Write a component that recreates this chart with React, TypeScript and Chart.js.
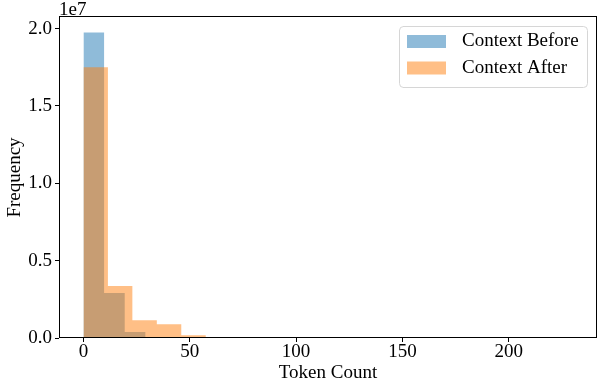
import React, { useEffect, useRef } from "react";
import { Chart, registerables } from "chart.js";

Chart.register(...registerables);

// ---- data ----
const seriesNames = ["Context Before", "Context After"];
const beforeRange = [0, 194];
const afterRange = [0, 230];
const beforeCounts = [19750000, 2910000, 390000, 60000, 15000, 5000, 2000, 800, 400, 200, 100, 50, 25, 12, 6, 3, 2, 1, 1, 1];
const afterCounts = [17500000, 3360000, 1140000, 886000, 175000, 30000, 8000, 3000, 1200, 500, 250, 120, 60, 30, 15, 8, 4, 2, 1, 1];
const xTickValues = [0, 50, 100, 150, 200];
const yTickValues = [0, 5e6, 1e7, 1.5e7, 2e7];
const xLimits = [-11.5, 241.5];
const yLimits = [0, 2.075e7];
const xTitle = "Token Count";
const yTitle = "Frequency";
const offsetText = "1e7";

const colors = ["rgba(31,119,180,0.5)", "rgba(255,127,14,0.5)"];
const FONT = "'Liberation Serif', 'Times New Roman', serif";
const FS = 19;

function histPoints(range: number[], counts: number[]) {
  const w = (range[1] - range[0]) / counts.length;
  const pts = counts.map((c, i) => ({ x: range[0] + i * w, y: c }));
  pts.push({ x: range[1], y: counts[counts.length - 1] });
  return pts;
}

const framePlugin = {
  id: "mplFrame",
  afterDraw(chart: any) {
    const { ctx, chartArea } = chart;
    ctx.save();
    // axes frame
    ctx.strokeStyle = "#000";
    ctx.lineWidth = 1;
    ctx.strokeRect(chartArea.left + 0.5, chartArea.top - 0.5, chartArea.right - chartArea.left - 1, chartArea.bottom - chartArea.top);
    // offset text
    ctx.fillStyle = "#000";
    ctx.font = `${FS}px ${FONT}`;
    ctx.textBaseline = "middle";
    ctx.textAlign = "left";
    ctx.fillText(offsetText, chartArea.left, chartArea.top - 7);
    // legend
    const boxW = 188, boxH = 61;
    const x0 = chartArea.right - 10 - boxW;
    const y0 = chartArea.top + 9;
    const r = 4;
    ctx.beginPath();
    ctx.moveTo(x0 + r, y0 + 0.5);
    ctx.lineTo(x0 + boxW - r, y0 + 0.5);
    ctx.arcTo(x0 + boxW + 0.5, y0 + 0.5, x0 + boxW + 0.5, y0 + r, r);
    ctx.lineTo(x0 + boxW + 0.5, y0 + boxH - r);
    ctx.arcTo(x0 + boxW + 0.5, y0 + boxH + 0.5, x0 + boxW - r, y0 + boxH + 0.5, r);
    ctx.lineTo(x0 + r, y0 + boxH + 0.5);
    ctx.arcTo(x0 + 0.5, y0 + boxH + 0.5, x0 + 0.5, y0 + boxH - r, r);
    ctx.lineTo(x0 + 0.5, y0 + r);
    ctx.arcTo(x0 + 0.5, y0 + 0.5, x0 + r, y0 + 0.5, r);
    ctx.closePath();
    ctx.fillStyle = "rgba(255,255,255,0.8)";
    ctx.fill();
    ctx.strokeStyle = "#d6d6d6";
    ctx.stroke();
    seriesNames.forEach((name, i) => {
      const cy = y0 + 15.5 + i * 26.5;
      ctx.fillStyle = colors[i];
      ctx.fillRect(x0 + 8, cy - 6.5, 39, 13);
      ctx.fillStyle = "#000";
      ctx.fillText(name, x0 + 63, cy);
    });
    ctx.restore();
  },
};

export default function App() {
  const canvasRef = useRef<HTMLCanvasElement | null>(null);

  useEffect(() => {
    const canvas = canvasRef.current;
    if (!canvas) return;
    const tickFont = { family: FONT, size: FS };
    const chart = new Chart(canvas, {
      type: "line",
      data: {
        datasets: [
          {
            label: seriesNames[0],
            data: histPoints(beforeRange, beforeCounts),
            stepped: true,
            fill: "origin",
            backgroundColor: colors[0],
            borderColor: "rgba(0,0,0,0)",
            borderWidth: 0,
            pointRadius: 0,
            order: 1,
          },
          {
            label: seriesNames[1],
            data: histPoints(afterRange, afterCounts),
            stepped: true,
            fill: "origin",
            backgroundColor: colors[1],
            borderColor: "rgba(0,0,0,0)",
            borderWidth: 0,
            pointRadius: 0,
            order: 0,
          },
        ],
      },
      options: {
        animation: false,
        responsive: false,
        maintainAspectRatio: false,
        layout: { padding: { left: 0, right: 1, top: 17, bottom: 0 } },
        plugins: {
          legend: { display: false },
          tooltip: { enabled: false },
        },
        scales: {
          x: {
            type: "linear",
            min: xLimits[0],
            max: xLimits[1],
            afterBuildTicks: (s: any) => {
              s.ticks = xTickValues.map((v) => ({ value: v }));
            },
            afterFit: (s: any) => {
              s.height = 46;
            },
            ticks: {
              font: tickFont,
              color: "#000",
              padding: -1,
              maxRotation: 0,
              autoSkip: false,
              callback: (v: any) => String(v),
            },
            grid: { drawOnChartArea: false, drawTicks: true, tickLength: 4, color: "#000" },
            border: { display: false },
            title: { display: true, text: xTitle, font: tickFont, color: "#000", padding: { top: 0, bottom: 0 } },
          },
          y: {
            type: "linear",
            min: yLimits[0],
            max: yLimits[1],
            afterBuildTicks: (s: any) => {
              s.ticks = yTickValues.map((v) => ({ value: v }));
            },
            afterFit: (s: any) => {
              s.width = 59;
            },
            ticks: {
              font: tickFont,
              color: "#000",
              padding: 3,
              autoSkip: false,
              callback: (v: any) => (Number(v) / 1e7).toFixed(1),
            },
            grid: { drawOnChartArea: false, drawTicks: true, tickLength: 4, color: "#000" },
            border: { display: false },
            title: { display: true, text: yTitle, font: tickFont, color: "#000", padding: { top: 4, bottom: 0 } },
          },
        },
      } as any,
      plugins: [framePlugin],
    });
    return () => chart.destroy();
  }, []);

  return (
    <div style={{ position: "absolute", left: 0, top: 0, width: 598, height: 384 }}>
      <canvas ref={canvasRef} width={598} height={384} style={{ display: "block", width: 598, height: 384 }} />
    </div>
  );
}
